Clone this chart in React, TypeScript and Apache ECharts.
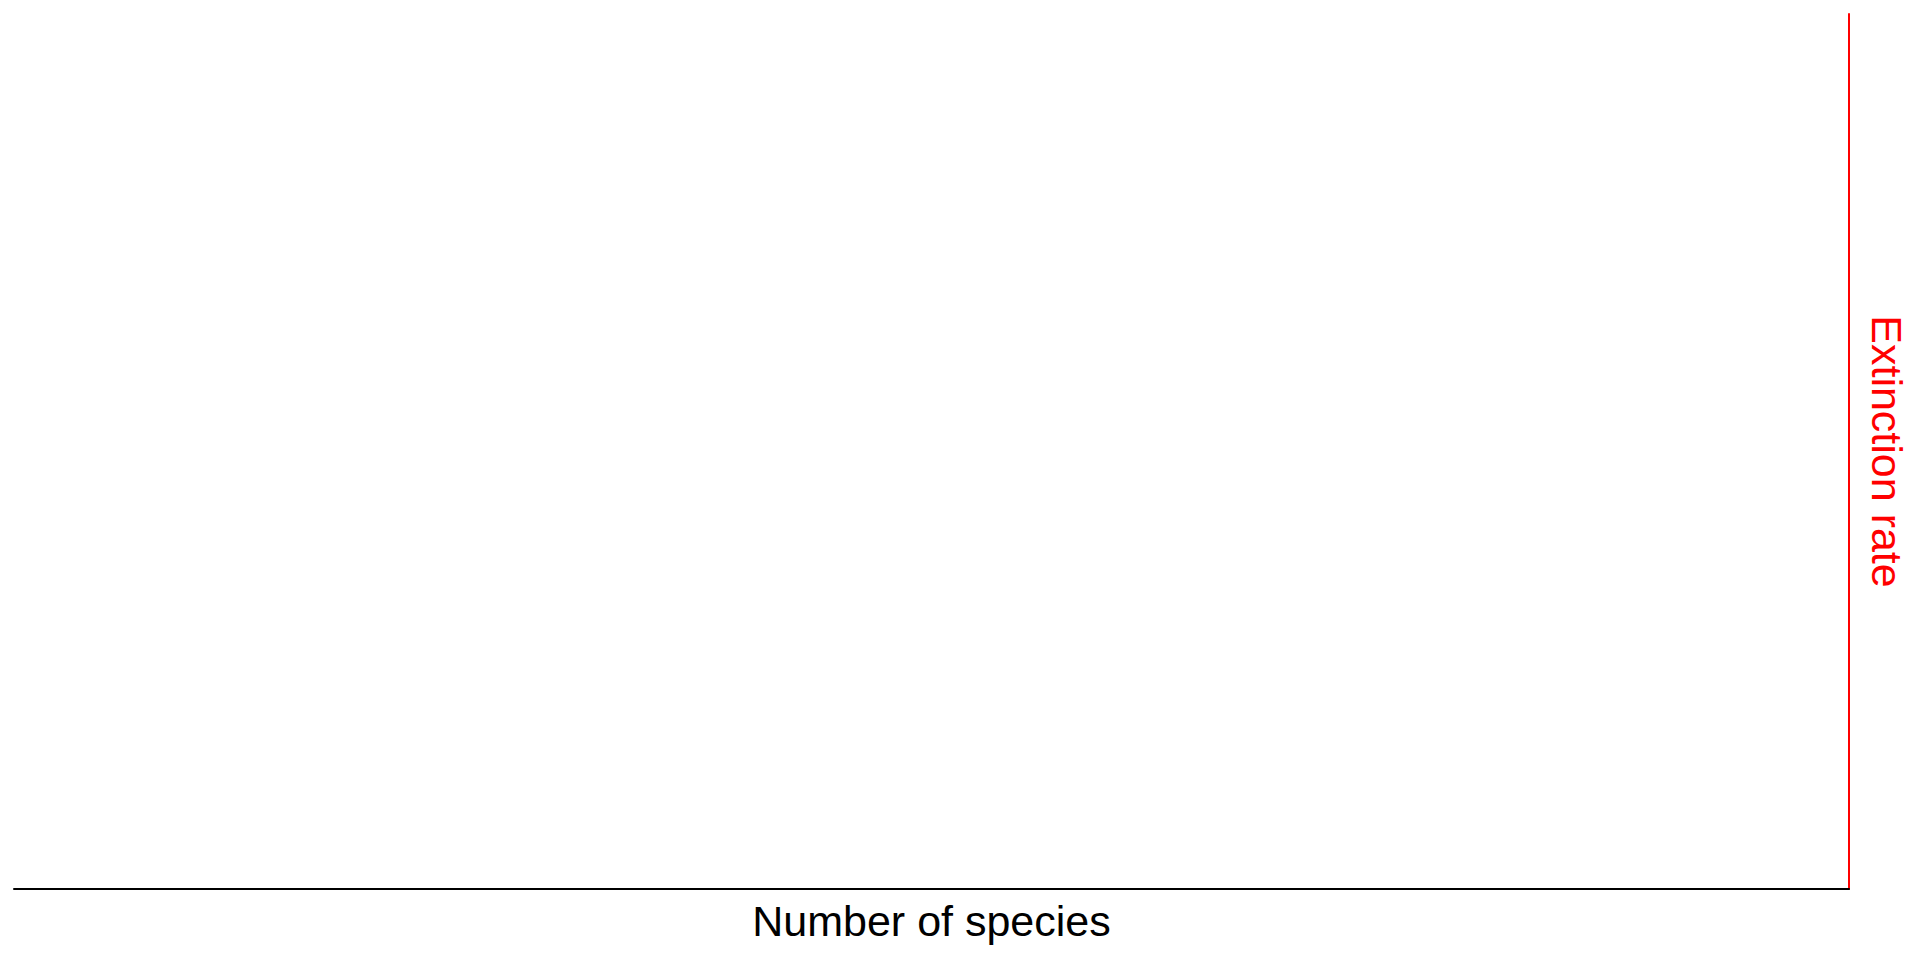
import React, { useEffect, useRef } from "react";
import * as echarts from "echarts";

const xAxisName = "Number of species";
const yAxisName = "Extinction rate";
const speciesCounts: number[] = [];
const extinctionRates: number[] = [];
const xRange = [0, 1];
const yRange = [0, 1];

export default function App() {
  const ref = useRef<HTMLDivElement>(null);
  useEffect(() => {
    if (!ref.current) return;
    const chart = echarts.init(ref.current, undefined, { renderer: "svg" });
    const font = "'Liberation Sans', Arial, sans-serif";
    chart.setOption({
      animation: false,
      backgroundColor: "#ffffff",
      grid: { left: 14, right: 71, top: 14, bottom: 71 },
      xAxis: {
        type: "value",
        min: xRange[0],
        max: xRange[1],
        name: xAxisName,
        nameLocation: "middle",
        nameGap: 10,
        nameTextStyle: { color: "#000000", fontSize: 43, fontFamily: font },
        axisLine: { show: true, onZero: false, lineStyle: { color: "#000000", width: 2 } },
        axisTick: { show: false },
        axisLabel: { show: false },
        splitLine: { show: false },
      },
      yAxis: {
        type: "value",
        position: "right",
        min: yRange[0],
        max: yRange[1],
        name: yAxisName,
        nameLocation: "middle",
        nameRotate: -90,
        nameGap: 16,
        nameTextStyle: { color: "#ff0000", fontSize: 43, fontFamily: font },
        axisLine: { show: true, onZero: false, lineStyle: { color: "#ff0000", width: 2 } },
        axisTick: { show: false },
        axisLabel: { show: false },
        splitLine: { show: false },
      },
      series: [
        {
          type: "line",
          data: speciesCounts.map((x, i) => [x, extinctionRates[i]]),
          showSymbol: false,
          lineStyle: { color: "#ff0000" },
        },
      ],
    });
    return () => chart.dispose();
  }, []);
  return (
    <div
      ref={ref}
      style={{ position: "fixed", left: 0, top: 0, width: "1920px", height: "960px", background: "#ffffff" }}
    />
  );
}
